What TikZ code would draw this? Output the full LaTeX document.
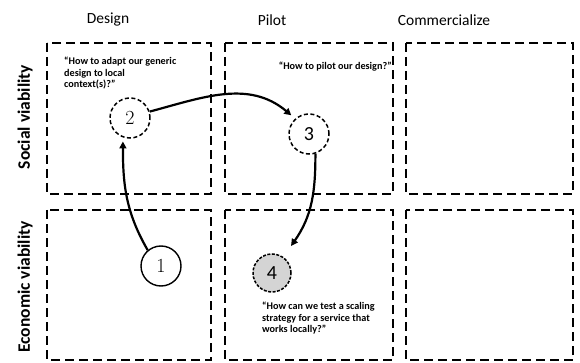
\documentclass[tikz,border=0pt]{standalone}
\usepackage{fontspec}
\setsansfont{Carlito}
\usetikzlibrary{arrows.meta}
\begin{document}
\begin{tikzpicture}[x=1pt,y=-1pt,
  every node/.style={font=\sffamily},
  cell/.style={line width=2.6pt,dash pattern=on 9pt off 5pt},
  header/.style={font=\sffamily\fontsize{15.5}{17}\selectfont},
  rowlabel/.style={font=\sffamily\bfseries\fontsize{17.5}{19}\selectfont,rotate=90},
  quote/.style={font=\sffamily\bfseries\fontsize{10.2}{11.6}\selectfont,align=left,inner sep=0pt},
  stage/.style={circle,minimum size=40pt,inner sep=0pt,fill=white,
    font=\sffamily\fontsize{20}{21}\selectfont},
  serifnum/.style={font=\rmfamily\fontsize{20}{21}\selectfont},
  flow/.style={line width=2.2pt,-{Triangle[length=7pt,width=7pt]}}]
\useasboundingbox (0,0) rectangle (580,363);

% column headers and row labels
\node[header] (hdesign) at (108,20) {Design};
\node[header] (hpilot) at (272,20) {Pilot};
\node[header] (hcomm) at (444,20) {Commercialize};
\node[rowlabel] (rsocial) at (25,117) {Social viability};
\node[rowlabel] (recon) at (25,287) {Economic viability};

% the six cells of the grid
\draw[cell] (47,43) rectangle (211,194);
\draw[cell] (225,43) rectangle (393,194);
\draw[cell] (406,43) rectangle (573,194);
\draw[cell] (47,210) rectangle (211,360);
\draw[cell] (225,210) rectangle (393,360);
\draw[cell] (406,210) rectangle (573,360);

% questions
\node[quote,anchor=north west] (q2) at (64,57)
  {“How to adapt our generic\\design to local\\context(s)?”};
\node[quote,anchor=north east] (q3) at (392,62) {“How to pilot our design?”};
\node[quote,anchor=north west] (q4) at (262,302)
  {“How can we test a scaling\\strategy for a service that\\works locally?”};

% stages
\node[stage,serifnum,draw,line width=1.4pt] (s1) at (161,266) {1};
\node[stage,serifnum,draw,line width=1.5pt,dash pattern=on 4pt off 2.5pt] (s2) at (130,118) {2};
\node[stage,draw,line width=1.5pt,dash pattern=on 4pt off 2.5pt] (s3) at (309,134) {3};
\node[stage,draw,line width=1.5pt,dash pattern=on 3pt off 1.5pt,fill=black!17,minimum size=38pt] (s4) at (272,273) {4};

% transitions between stages
\draw[flow] (s1.130) to[out=120,in=-90] ([yshift=-4pt]s2.-110);
\draw[flow] (s2.18) to[out=15,in=140] ([xshift=-3pt,yshift=4pt]s3.135);
\draw[flow] (s3.-72) to[out=-90,in=55] ([xshift=19pt,yshift=27pt]s4.center);
\end{tikzpicture}
\end{document}
